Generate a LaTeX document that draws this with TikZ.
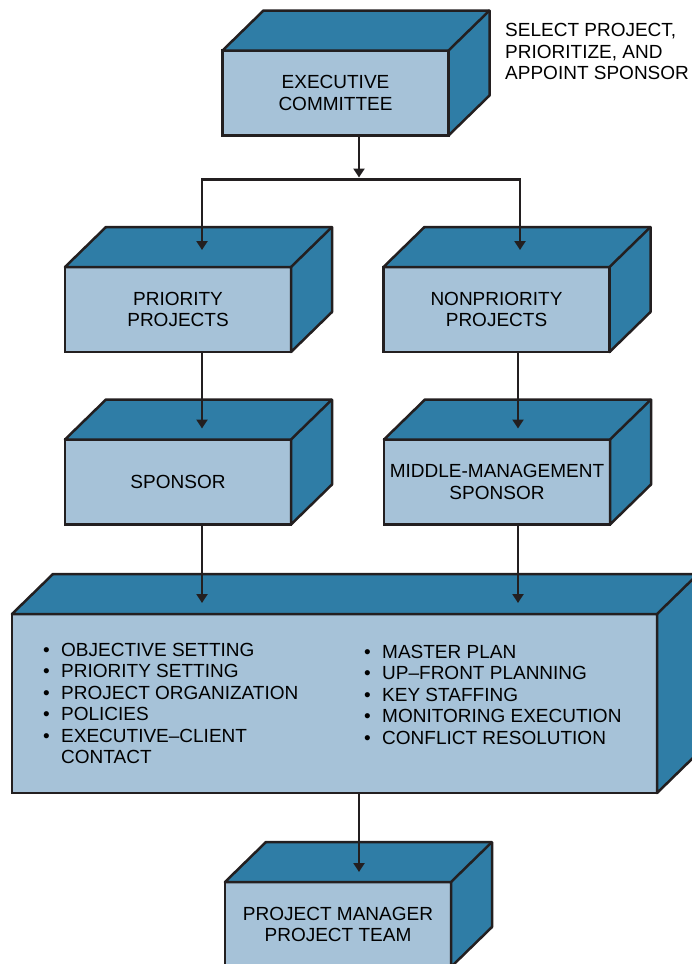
\documentclass[tikz,border=0pt]{standalone}
\usepackage{fontspec}
\setmainfont{Liberation Sans}
\usetikzlibrary{arrows.meta,calc}

\definecolor{topblue}{RGB}{47,125,166}
\definecolor{frontblue}{RGB}{166,194,216}
\definecolor{edge}{RGB}{35,31,32}
\newcommand{\listdot}{\makebox[18pt][l]{\textbullet}}

\begin{document}
\begin{tikzpicture}[x=1pt,y=-1pt,
  front/.style={draw=edge,fill=frontblue,line width=2.5pt,inner sep=0pt,outer sep=0pt,
    minimum width=226pt,minimum height=85pt,align=center,
    font=\fontsize{19}{21.5}\selectfont},
  face/.style={draw=edge,fill=topblue,line width=2.5pt,line join=round},
  arr/.style={draw=edge,line width=2.2pt,-{Triangle[length=9pt,width=11pt]}},
  list/.style={inner sep=0pt,align=left,font=\fontsize{19}{21.5}\selectfont}]
  \clip (0,0) rectangle (692,964);

  % boxes
  \node[front] (exec) at (335.5,93) {EXECUTIVE\\COMMITTEE};
  \node[front] (prio) at (178,309.5) {PRIORITY\\PROJECTS};
  \node[front] (nonprio) at (496.5,309.5) {NONPRIORITY\\PROJECTS};
  \node[front] (spons) at (178,482) {SPONSOR};
  \node[front] (midman) at (497,482) {MIDDLE-MANAGEMENT\\SPONSOR};
  \node[front,minimum width=645pt,minimum height=179pt] (tasks) at (334.5,703.5) {};
  \node[front] (team) at (338,924.5) {PROJECT MANAGER\\PROJECT TEAM};

  % top and side faces
  \foreach \n in {exec,prio,nonprio,spons,midman,tasks,team}{
    \filldraw[face] (\n.north west) -- ++(41,-40) -- ($(\n.north east)+(41,-40)$)
      -- ($(\n.south east)+(41,-40)$) -- (\n.south east) -- (\n.north east) -- cycle;
    \draw[face,fill=none] (\n.north east) -- ++(41,-40);
  }

  % note beside the committee
  \node[list,anchor=west] (note) at (505,51.5) {SELECT PROJECT,\\PRIORITIZE, AND\\APPOINT SPONSOR};

  % duties
  \node[list,anchor=north west] (leftlist) at (43,643)
    {\listdot OBJECTIVE SETTING\\\listdot PRIORITY SETTING\\\listdot PROJECT ORGANIZATION\\
     \listdot POLICIES\\\listdot EXECUTIVE--CLIENT\\\makebox[18pt]{}CONTACT};
  \node[list,anchor=north west] (rightlist) at (364,645)
    {\listdot MASTER PLAN\\\listdot UP--FRONT PLANNING\\\listdot KEY STAFFING\\
     \listdot MONITORING EXECUTION\\\listdot CONFLICT RESOLUTION};

  % connectors
  \coordinate (e1) at ([xshift=23.5pt]exec.south);
  \coordinate (split) at ([yshift=-44pt]e1);
  \coordinate (p1) at ([xshift=24pt]prio.north);
  \coordinate (n1) at ([xshift=23.5pt]nonprio.north);
  \draw[arr,shorten >=2pt] (e1) -- (split);
  \draw[arr,shorten >=17pt] (split) -| (p1);
  \draw[arr,shorten >=17pt] (split) -| (n1);

  \coordinate (p2) at ([xshift=24pt]prio.south);
  \draw[arr,shorten >=11pt] (p2) -- (p2 |- spons.north);
  \coordinate (n2) at ([xshift=21.5pt]nonprio.south);
  \draw[arr,shorten >=11pt] (n2) -- (n2 |- midman.north);

  \coordinate (s1) at ([xshift=24pt]spons.south);
  \draw[arr,shorten >=11pt] (s1) -- (s1 |- tasks.north);
  \coordinate (m1) at ([xshift=21pt]midman.south);
  \draw[arr,shorten >=11pt] (m1) -- (m1 |- tasks.north);

  \coordinate (t1) at ([xshift=24.5pt]tasks.south);
  \draw[arr,shorten >=10pt] (t1) -- (t1 |- team.north);
\end{tikzpicture}
\end{document}
